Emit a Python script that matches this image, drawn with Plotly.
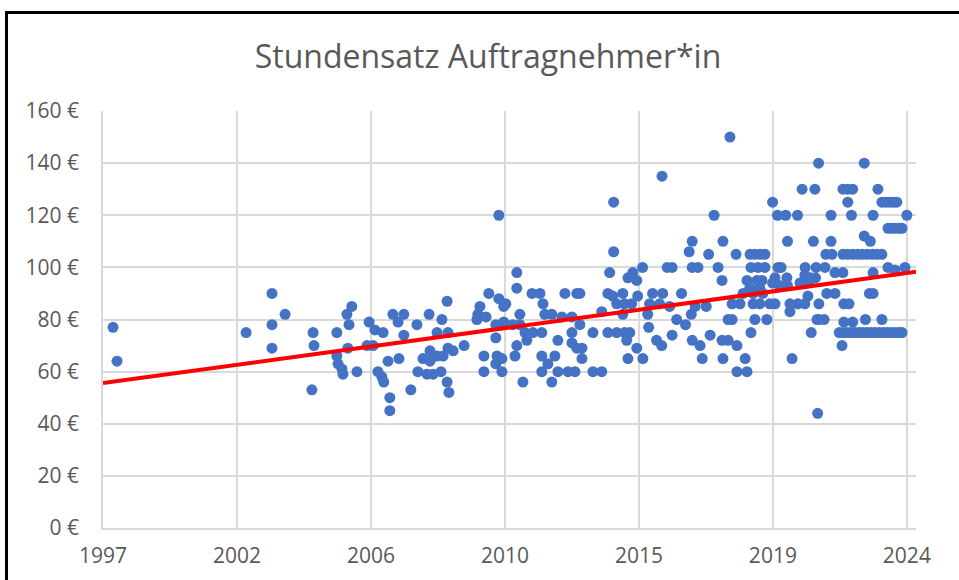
import plotly.graph_objects as go

# ---- data (decimal year, hourly rate in EUR) ----
years = [
    1998.08, 1998.21, 2002.45, 2003.30, 2003.30, 2003.30, 2003.73, 2004.61, 2004.65, 2004.68,
    2005.43, 2005.76, 2005.92, 2005.83, 2005.79, 2005.43, 2005.47, 2005.63, 2006.09, 2005.60,
    2006.49, 2006.68, 2006.95, 2006.42, 2006.62, 2006.78, 2006.91, 2006.97, 2007.11, 2007.17,
    2007.17, 2007.27, 2007.44, 2007.63, 2007.63, 2007.47, 2007.86, 2008.06, 2008.09, 2008.26,
    2008.39, 2008.59, 2008.85, 2008.46, 2008.49, 2008.49, 2008.72, 2008.72, 2008.88, 2009.05,
    2009.08, 2009.05, 2009.11, 2008.92, 2009.08, 2009.25, 2009.61, 2010.13, 2010.06, 2010.03,
    2010.33, 2010.42, 2010.75, 2010.98, 2010.91, 2010.75, 2010.65, 2010.91, 2011.21, 2011.44,
    2010.65, 2010.26, 2010.69, 2010.85, 2010.65, 2010.26, 2010.85,
    2011.34, 2011.34, 2011.44, 2011.84, 2012.10, 2012.20, 2012.26, 2012.49, 2012.92, 2013.31,
    2013.41, 2012.82, 2013.15, 2013.41, 2014.13, 2014.33, 2014.52, 2014.52, 2014.39, 2011.61,
    2011.87, 2012.16, 2011.67, 2011.34, 2011.28, 2011.54, 2012.16, 2012.59, 2012.36, 2012.16,
    2012.49, 2012.69, 2013.02, 2013.25, 2012.69, 2013.15, 2013.15, 2013.31, 2013.48, 2013.48,
    2013.84, 2013.84, 2014.13, 2014.33,
    2016.11, 2017.82, 2017.10, 2017.00, 2017.64, 2018.11, 2015.47, 2016.28, 2016.44, 2017.10,
    2017.29, 2017.95, 2014.99, 2015.28, 2015.15, 2018.08, 2014.49, 2014.82, 2014.62, 2014.88,
    2015.11, 2015.31, 2015.80, 2016.13, 2016.75, 2015.70, 2016.03, 2016.36, 2014.82, 2015.64,
    2016.59, 2016.88, 2017.07, 2017.20, 2017.56, 2015.67, 2014.62, 2014.88, 2015.05, 2014.95,
    2015.28, 2014.99, 2015.48, 2015.93, 2016.10, 2016.44, 2017.10, 2017.36, 2017.69, 2017.43,
    2018.08, 2018.11, 2018.28,
    2018.34, 2021.25, 2020.71, 2021.13, 2019.74, 2019.90, 2020.17, 2020.56, 2020.23, 2021.08,
    2018.54, 2019.00, 2019.16, 2019.33, 2019.49, 2019.03, 2019.26, 2019.49, 2019.92, 2020.02,
    2020.81, 2021.17, 2018.90, 2019.23, 2019.39, 2019.82, 2020.21, 2020.80, 2020.96, 2018.99,
    2019.32, 2019.74, 2019.97, 2020.23, 2018.77, 2019.10, 2019.42, 2020.64, 2020.87, 2020.90,
    2018.41, 2018.67, 2019.10, 2019.32, 2019.65, 2019.82, 2020.31, 2020.57, 2020.80, 2018.41,
    2019.16, 2019.55, 2020.31, 2021.20, 2019.03, 2021.01, 2018.28, 2018.57, 2018.84, 2020.38,
    2018.57, 2018.90, 2021.22,
    2022.75, 2022.05, 2022.21, 2022.37, 2023.20, 2022.21, 2023.33, 2023.46, 2023.59, 2023.72,
    2023.82, 2021.66, 2022.33, 2023.04, 2024.15, 2022.75, 2022.95, 2021.66, 2021.49, 2021.69,
    2022.05, 2022.21, 2022.37, 2022.54, 2022.69, 2022.85, 2023.02, 2023.17, 2023.33,
    2021.46, 2021.79, 2022.05, 2020.99, 2021.15, 2021.52, 2021.79, 2022.92, 2023.04, 2021.26,
    2022.08, 2022.25, 2021.26, 2021.43, 2022.08, 2022.37, 2022.79, 2023.33,
    2021.93, 2022.06, 2022.19, 2022.33, 2022.46, 2022.59, 2022.72, 2022.85, 2022.98, 2023.11,
    2023.24, 2023.37, 2023.50, 2023.63, 2023.76, 2023.89, 2023.99,
    2022.02, 2023.53, 2023.66, 2023.76, 2023.89, 2023.99, 2023.04, 2023.53, 2023.76, 2024.09,
]

rates = [
    77, 64, 75, 90, 78, 69, 82, 53, 75, 70,
    75, 82, 85, 78, 69, 66, 63, 59, 60, 61,
    79, 76, 75, 70, 70, 60, 58, 56, 64, 50,
    45, 82, 79, 82, 74, 65, 53, 78, 60, 65,
    59, 59, 60, 82, 68, 64, 75, 66, 80, 87,
    75, 56, 52, 66, 69, 68, 70, 85, 82, 80,
    81, 90, 88, 86, 85, 120, 78, 79, 78, 78,
    73, 66, 66, 65, 63, 60, 60,
    98, 92, 82, 90, 90, 86, 82, 82, 90, 90,
    90, 81, 81, 78, 83, 90, 125, 106, 98, 75,
    75, 75, 72, 70, 66, 56, 66, 66, 63, 60,
    56, 60, 60, 60, 72, 75, 71, 69, 69, 65,
    75, 60, 60, 75,
    135, 120, 110, 106, 105, 110, 100, 100, 100, 100,
    100, 100, 96, 95, 98, 95, 89, 90, 86, 86,
    86, 89, 90, 90, 90, 86, 86, 85, 82, 82,
    80, 78, 82, 85, 85, 77, 75, 75, 75, 72,
    69, 65, 65, 72, 70, 74, 72, 70, 74, 65,
    72, 65, 80,
    150, 140, 130, 130, 125, 120, 120, 120, 110, 110,
    105, 105, 105, 105, 105, 100, 100, 100, 100, 100,
    100, 100, 95, 95, 95, 96, 96, 97, 95, 92,
    92, 94, 93, 93, 90, 90, 90, 94, 94, 89,
    86, 86, 86, 86, 86, 86, 86, 86, 86, 80,
    80, 80, 83, 80, 75, 75, 72, 70, 65, 65,
    60, 60, 44,
    140, 130, 130, 130, 130, 125, 125, 125, 125, 125,
    125, 120, 120, 120, 120, 112, 110, 110, 105, 105,
    105, 105, 105, 105, 105, 105, 105, 105, 105,
    100, 98, 98, 96, 96, 90, 90, 90, 90, 86,
    86, 86, 80, 80, 79, 79, 80, 80,
    75, 75, 75, 75, 75, 75, 75, 75, 75, 75,
    75, 75, 75, 75, 75, 75, 75,
    70, 115, 115, 115, 115, 115, 98, 100, 99, 100,
]

# linear trend (start / end of the plotted range)
trend_years = [1997.75, 2024.45]
trend_rates = [55.6, 98.3]

# axis ticks (Excel date axis with a ~4.4 year major unit)
x_tick_values = [1997.75, 2002.15, 2006.55, 2010.95, 2015.35, 2019.75, 2024.15]
x_tick_labels = ["1997", "2002", "2006", "2010", "2015", "2019", "2024"]
y_tick_values = [0, 20, 40, 60, 80, 100, 120, 140, 160]
y_tick_labels = ["0 €", "20 €", "40 €", "60 €", "80 €", "100 €", "120 €", "140 €", "160 €"]

title_text = "Stundensatz Auftragnehmer*in"

FONT = "Open Sans, Noto Sans, sans-serif"
GREY_TXT = "#595959"
GRID = "#D9D9D9"

fig = go.Figure()
fig.add_trace(go.Scatter(
    x=years, y=rates, mode="markers",
    marker=dict(color="#4472C4", size=11, line=dict(width=0)),
    showlegend=False, hoverinfo="skip",
))
fig.add_trace(go.Scatter(
    x=trend_years, y=trend_rates, mode="lines",
    line=dict(color="#FF0000", width=4),
    showlegend=False, hoverinfo="skip",
))

fig.update_layout(
    width=959, height=580,
    margin=dict(l=103, r=43, t=111, b=52),
    paper_bgcolor="white", plot_bgcolor="white",
    showlegend=False,
    title=dict(
        text=title_text, x=488 / 959, xanchor="center", xref="container",
        y=1 - 57 / 580, yanchor="middle", yref="container",
        font=dict(family=FONT, size=32, color=GREY_TXT),
    ),
    xaxis=dict(
        range=[1997.75, 2024.45],
        tickmode="array", tickvals=x_tick_values, ticktext=x_tick_labels,
        showgrid=True, gridcolor=GRID, gridwidth=1.5,
        zeroline=False, showline=True, linecolor=GRID, linewidth=2,
        ticks="", ticklabelstandoff=8,
        tickfont=dict(family=FONT, size=21, color=GREY_TXT),
    ),
    yaxis=dict(
        range=[0, 160], tickmode="array", tickvals=y_tick_values,
        ticktext=y_tick_labels,
        showgrid=True, gridcolor=GRID, gridwidth=1.5,
        zeroline=False, showline=True, linecolor=GRID, linewidth=1.5,
        ticks="", ticklabelstandoff=18,
        tickfont=dict(family=FONT, size=21, color=GREY_TXT),
    ),
    shapes=[
        dict(type="line", xref="paper", yref="paper",
             x0=(6.5 - 103) / 813, x1=(6.5 - 103) / 813,
             y0=-0.3, y1=(528 - 12.5) / 417,
             line=dict(color="black", width=3)),
        dict(type="line", xref="paper", yref="paper",
             x0=(5 - 103) / 813, x1=1.2,
             y0=(528 - 12.5) / 417, y1=(528 - 12.5) / 417,
             line=dict(color="black", width=3)),
    ],
)

fig.write_html(
    "out.html",
    config={"displayModeBar": False},
    post_script="document.body.style.margin='0';document.body.style.overflow='hidden';",
)
